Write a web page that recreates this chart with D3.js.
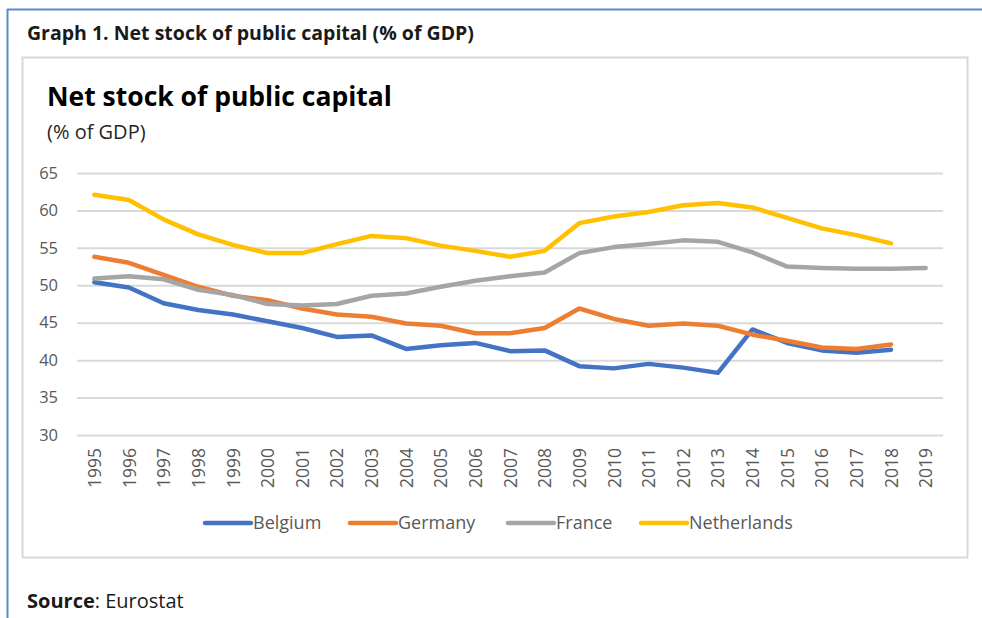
<!DOCTYPE html>
<html lang="en">
<head>
  <meta charset="UTF-8">
  <title>Net stock of public capital</title>
  <script src="https://d3js.org/d3.v7.min.js"></script>
  <style>
    * { box-sizing: border-box; margin: 0; padding: 0; }
    body {
      width: 982px;
      height: 618px;
      background: #fff;
      font-family: 'Open Sans', 'Noto Sans', sans-serif;
      overflow: hidden;
    }
    svg { display: block; }
    .tick text { fill: #595959; }
  </style>
</head>
<body>
  <div id="chart"></div>

  <script>
    // Data
    const years = d3.range(1995, 2020).map(String);
    const yTicks = [30, 35, 40, 45, 50, 55, 60, 65];

    const belgium = [50.4, 49.7, 47.6, 46.7, 46.1, 45.2, 44.3, 43.1, 43.3, 41.5, 42.0, 42.3,
      41.2, 41.3, 39.2, 38.9, 39.5, 39.0, 38.3, 44.1, 42.3, 41.3, 41.0, 41.4];
    const germany = [53.8, 53.0, 51.4, 49.8, 48.6, 48.0, 46.9, 46.1, 45.8, 44.9, 44.6, 43.6,
      43.6, 44.3, 46.9, 45.5, 44.6, 44.9, 44.6, 43.4, 42.6, 41.7, 41.5, 42.1];
    const france = [50.9, 51.2, 50.8, 49.4, 48.7, 47.5, 47.3, 47.5, 48.6, 48.9, 49.8, 50.6,
      51.2, 51.7, 54.3, 55.1, 55.5, 56.0, 55.8, 54.4, 52.5, 52.3, 52.2, 52.2, 52.3];
    const netherlands = [62.1, 61.4, 58.8, 56.8, 55.4, 54.3, 54.3, 55.5, 56.6, 56.3, 55.3, 54.6,
      53.8, 54.6, 58.3, 59.2, 59.8, 60.7, 61.0, 60.4, 59.0, 57.6, 56.7, 55.6];

    const seriesNames = ["Belgium", "Germany", "France", "Netherlands"];
    const seriesValues = [belgium, germany, france, netherlands];
    const colors = ["#4472c4", "#ed7d31", "#a5a5a5", "#ffc000"];

    const series = seriesNames.map((name, i) => ({
      name,
      color: colors[i],
      values: seriesValues[i].map((v, j) => ({ year: years[j], value: v }))
    }));

    const width = 982, height = 618;
    const plot = { left: 77, right: 943, top: 173, bottom: 435 };
    const font = "'Open Sans', 'Noto Sans', sans-serif";

    const svg = d3.select("#chart")
      .append("svg")
      .attr("width", width)
      .attr("height", height);

    // outer document frame (blue rule at top and left)
    svg.append("line")
      .attr("x1", 7).attr("x2", width).attr("y1", 9.5).attr("y2", 9.5)
      .attr("stroke", "#5b8bc9").attr("stroke-width", 2);
    svg.append("line")
      .attr("x1", 7.5).attr("x2", 7.5).attr("y1", 9).attr("y2", height)
      .attr("stroke", "#5b8bc9").attr("stroke-width", 2);

    svg.append("text")
      .attr("x", 27).attr("y", 40)
      .attr("font-size", 19.5).attr("font-weight", 700)
      .attr("fill", "#1a1a1a")
      .text("Graph 1. Net stock of public capital (% of GDP)");

    // chart area box
    svg.append("rect")
      .attr("x", 22.5).attr("y", 57.5)
      .attr("width", 945).attr("height", 500)
      .attr("fill", "#fff")
      .attr("stroke", "#d9d9d9").attr("stroke-width", 2);

    svg.append("text")
      .attr("x", 47).attr("y", 106)
      .attr("font-size", 26.5).attr("font-weight", 700)
      .attr("fill", "#000")
      .text("Net stock of public capital");

    svg.append("text")
      .attr("x", 47).attr("y", 139)
      .attr("font-size", 20)
      .attr("fill", "#262626")
      .text("(% of GDP)");

    // scales
    const x = d3.scalePoint()
      .domain(years)
      .range([plot.left, plot.right])
      .padding(0.5);

    const y = d3.scaleLinear()
      .domain([30, 65])
      .range([plot.bottom, plot.top]);

    // gridlines + y labels
    const yAxis = svg.append("g")
      .attr("transform", `translate(${plot.left},0)`)
      .call(d3.axisLeft(y)
        .tickValues(yTicks)
        .tickSize(-(plot.right - plot.left))
        .tickPadding(19));
    yAxis.select(".domain").remove();
    yAxis.selectAll(".tick line")
      .attr("stroke", "#d9d9d9").attr("stroke-width", 2);
    yAxis.selectAll(".tick text")
      .attr("font-size", 16.5)
      .attr("font-family", font);

    // x labels, rotated
    const xAxis = svg.append("g")
      .attr("transform", `translate(0,${plot.bottom})`)
      .call(d3.axisBottom(x).tickSize(0).tickPadding(0));
    xAxis.select(".domain").remove();
    xAxis.selectAll(".tick text")
      .attr("font-size", 17.5)
      .attr("font-family", font)
      .attr("transform", "rotate(-90)")
      .attr("text-anchor", "end")
      .attr("dx", "-13")
      .attr("dy", "0.35em");

    // lines
    const line = d3.line()
      .x(d => x(d.year))
      .y(d => y(d.value));

    svg.append("g")
      .selectAll("path")
      .data(series)
      .join("path")
      .attr("fill", "none")
      .attr("stroke", d => d.color)
      .attr("stroke-width", 4.5)
      .attr("stroke-linejoin", "round")
      .attr("stroke-linecap", "round")
      .attr("d", d => line(d.values));

    // legend
    const legendX = [205, 350, 508, 641];
    const legend = svg.append("g")
      .selectAll("g")
      .data(series)
      .join("g")
      .attr("transform", (d, i) => `translate(${legendX[i]},523)`);
    legend.append("line")
      .attr("x1", 0).attr("x2", 46)
      .attr("stroke", d => d.color)
      .attr("stroke-width", 4.5)
      .attr("stroke-linecap", "round");
    legend.append("text")
      .attr("x", 48).attr("dy", "0.35em")
      .attr("font-size", 18)
      .attr("fill", "#595959")
      .text(d => d.name);

    // source
    const src = svg.append("text")
      .attr("x", 27).attr("y", 608)
      .attr("font-size", 20)
      .attr("fill", "#1a1a1a");
    src.append("tspan").attr("font-weight", 700).text("Source");
    src.append("tspan").text(": Eurostat");
  </script>
</body>
</html>
